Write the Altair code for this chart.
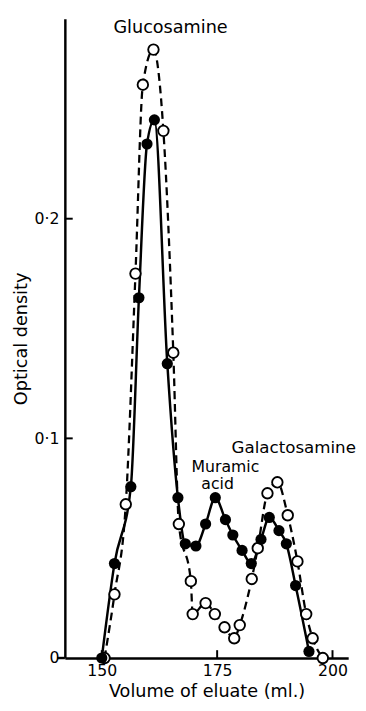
import altair as alt
import pandas as pd

# ---- data ----
vol_filled = [150.0, 152.75, 156.3, 158.05, 159.8, 161.4, 164.2, 166.5, 168.1, 170.4, 172.5,
              174.6, 176.8, 178.4, 180.4, 182.4, 184.5, 186.3, 188.4, 190.0, 192.0, 194.9]
od_filled = [0.0, 0.043, 0.078, 0.164, 0.234, 0.245, 0.134, 0.073, 0.052, 0.051, 0.061,
             0.073, 0.063, 0.056, 0.049, 0.043, 0.054, 0.064, 0.058, 0.052, 0.033, 0.003]

vol_open = [150.6, 152.75, 155.2, 157.3, 158.9, 161.2, 163.35, 165.5, 166.7, 169.3, 169.7,
            172.5, 174.5, 176.6, 178.7, 179.9, 182.5, 183.8, 185.9, 188.05, 190.3, 192.4,
            194.3, 195.7, 197.9]
od_open = [0.0, 0.029, 0.070, 0.175, 0.261, 0.277, 0.240, 0.139, 0.061, 0.035, 0.020,
           0.025, 0.020, 0.014, 0.009, 0.015, 0.036, 0.050, 0.075, 0.080, 0.065, 0.044,
           0.020, 0.009, 0.0]

x_ticks = [150, 175, 200]
y_ticks = [0.0, 0.1, 0.2]

ann_text = ["Glucosamine", "Muramic", "acid", "Galactosamine"]
ann_vol = [164.9, 176.8, 175.1, 191.6]
ann_od = [0.2866, 0.0871, 0.0790, 0.0955]
ann_size = [18, 16, 16, 17]

filled = pd.DataFrame({"vol": vol_filled, "od": od_filled})
opened = pd.DataFrame({"vol": vol_open, "od": od_open})
xt = pd.DataFrame({"vol": x_ticks})
yt = pd.DataFrame({"od": [v for v in y_ticks if v > 0]})
ann = pd.DataFrame({"vol": ann_vol, "od": ann_od, "txt": ann_text, "fs": ann_size})

W, H = 289, 652
FONT = "DejaVu Sans"
xs = alt.Scale(domain=[142, 203.4], nice=False, zero=False)
ys = alt.Scale(domain=[0, 0.291], nice=False)

x_axis = alt.Axis(values=x_ticks, title="Volume of eluate (ml.)", labelPadding=5,
                  titlePadding=4, format="d", labelFlush=False)
y_axis = alt.Axis(values=y_ticks, title="Optical density", labelPadding=6, titlePadding=4,
                  labelFlush=False,
                  labelExpr="datum.value == 0 ? '0' : replace(format(datum.value, '.1f'), '.', '·')")

X = alt.X("vol:Q", scale=xs, axis=x_axis)
Y = alt.Y("od:Q", scale=ys, axis=y_axis)

dashed = alt.Chart(opened).mark_line(interpolate="monotone", color="black", strokeWidth=2.3,
                                     strokeDash=[8, 5]).encode(x=X, y=Y)
solid = alt.Chart(filled).mark_line(interpolate="monotone", color="black",
                                    strokeWidth=2.5).encode(x=X, y=Y)
open_pts = alt.Chart(opened).mark_point(shape="circle", filled=True, fill="white", stroke="black",
                                        strokeWidth=1.9, size=115, opacity=1).encode(x=X, y=Y)
fill_pts = alt.Chart(filled).mark_circle(color="black", size=130, opacity=1).encode(x=X, y=Y)

xtick_marks = alt.Chart(xt).mark_rule(color="black", strokeWidth=2).encode(
    x=X, y=alt.value(H), y2=alt.value(H - 8))
ytick_marks = alt.Chart(yt).mark_rule(color="black", strokeWidth=2).encode(
    y=Y, x=alt.value(0), x2=alt.value(8))
axis_ext = alt.Chart(pd.DataFrame({"a": [0]})).mark_rule(color="black", strokeWidth=2.5).encode(
    x=alt.value(-8), x2=alt.value(0), y=alt.value(H))

labels = alt.Chart(ann).mark_text(font=FONT, color="black", align="center",
                                  baseline="middle").encode(
    x=X, y=Y, text="txt:N", size=alt.Size("fs:Q", scale=None, legend=None))

chart = alt.layer(dashed, solid, open_pts, fill_pts, xtick_marks, ytick_marks, axis_ext, labels).properties(
    width=W, height=H,
    padding={"left": 58, "top": 4, "right": 10, "bottom": 47},
    autosize=alt.AutoSizeParams(type="none"),
).configure_view(stroke=None).configure_axis(
    domainColor="black", domainWidth=2.5, ticks=False, grid=False,
    labelFont=FONT, labelFontSize=16, labelColor="black",
    titleFont=FONT, titleFontSize=18, titleFontWeight="normal", titleColor="black",
)

chart.save("out.html", embed_options={"renderer": "svg", "actions": False})
